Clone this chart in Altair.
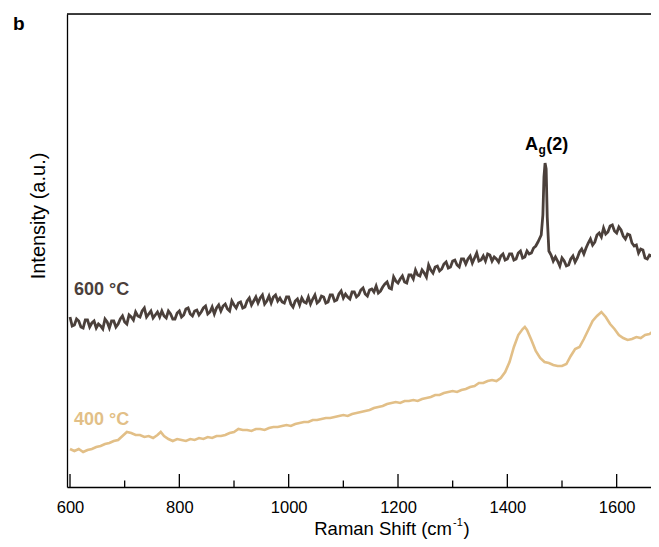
import altair as alt
import pandas as pd

# ---- 600 °C spectrum (Raman shift in cm-1, intensity in a.u.) ----
x600 = [600, 604, 608, 612, 616, 620, 624, 628, 632, 636, 640, 644, 648, 652, 656, 660, 664, 668, 672, 676,
        680, 684, 688, 692, 696, 700, 704, 708, 712, 716, 720, 724, 728, 732, 736, 740, 744, 748, 752, 756,
        760, 764, 768, 772, 776, 780, 784, 788, 792, 796, 800, 804, 808, 812, 816, 820, 824, 828, 832, 836,
        840, 844, 848, 852, 856, 860, 864, 868, 872, 876, 880, 884, 888, 892, 896, 900, 904, 908, 912, 916,
        920, 924, 928, 932, 936, 940, 944, 948, 952, 956, 960, 964, 968, 972, 976, 980, 984, 988, 992, 996,
        1000, 1004, 1008, 1012, 1016, 1020, 1024, 1028, 1032, 1036, 1040, 1044, 1048, 1052, 1056, 1060, 1064, 1068, 1072, 1076,
        1080, 1084, 1088, 1092, 1096, 1100, 1104, 1108, 1112, 1116, 1120, 1124, 1128, 1132, 1136, 1140, 1144, 1148, 1152, 1156,
        1160, 1164, 1168, 1172, 1176, 1180, 1184, 1188, 1192, 1196, 1200, 1204, 1208, 1212, 1216, 1220, 1224, 1228, 1232, 1236,
        1240, 1244, 1248, 1252, 1256, 1260, 1264, 1268, 1272, 1276, 1280, 1284, 1288, 1292, 1296, 1300, 1304, 1308, 1312, 1316,
        1320, 1324, 1328, 1332, 1336, 1340, 1344, 1348, 1352, 1356, 1360, 1364, 1368, 1372, 1376, 1380, 1384, 1388, 1392, 1396,
        1400, 1404, 1408, 1412, 1416, 1420, 1424, 1428, 1432, 1436, 1440, 1444, 1448, 1452,
        1456, 1462, 1465, 1467, 1469, 1471, 1473, 1476, 1480, 1484,
        1488, 1492, 1496, 1500, 1504, 1508, 1512, 1516, 1520, 1524, 1528, 1532, 1536, 1540, 1544, 1548, 1552, 1556, 1560, 1564,
        1568, 1572, 1576, 1580, 1584, 1588, 1592, 1596, 1600, 1604, 1608, 1612, 1616, 1620, 1624, 1628, 1632, 1636, 1640, 1644,
        1648, 1652, 1656, 1660, 1664, 1668, 1672, 1676, 1680]
y600 = [170, 161, 162, 168, 166, 160, 159, 167, 167, 160, 164, 166, 159, 163, 161, 158, 168, 165, 159, 166,
        166, 160, 163, 168, 171, 165, 163, 172, 170, 167, 175, 171, 170, 176, 179, 170, 173, 176, 169, 172,
        175, 170, 176, 171, 169, 176, 173, 168, 168, 174, 176, 170, 172, 178, 179, 173, 171, 176, 177, 172,
        175, 179, 181, 173, 175, 180, 173, 179, 182, 176, 181, 183, 178, 176, 186, 182, 179, 184, 185, 179,
        180, 186, 189, 182, 186, 190, 184, 189, 192, 183, 186, 191, 184, 190, 192, 186, 189, 185, 184, 190,
        190, 183, 180, 186, 188, 182, 189, 185, 184, 190, 183, 188, 192, 184, 186, 191, 190, 184, 185, 192,
        192, 186, 187, 193, 196, 189, 193, 190, 188, 195, 195, 190, 192, 197, 199, 193, 191, 197, 198, 195,
        201, 194, 196, 200, 203, 205, 199, 198, 210, 206, 204, 208, 211, 205, 204, 212, 212, 208, 217, 212,
        211, 217, 214, 210, 222, 217, 214, 220, 221, 216, 218, 223, 225, 219, 220, 226, 227, 222, 220, 228,
        228, 223, 228, 231, 224, 229, 234, 226, 227, 231, 226, 233, 232, 226, 230, 228, 225, 231, 233, 227,
        228, 233, 233, 227, 228, 234, 236, 229, 230, 236, 233, 234, 239, 241,
        245, 252, 272, 310, 324, 318, 270, 236, 232, 226,
        230, 226, 221, 229, 226, 221, 222, 228, 231, 225, 229, 235, 238, 233, 239, 244, 248, 242, 245, 252,
        254, 250, 259, 253, 255, 261, 262, 256, 254, 260, 257, 251, 248, 253, 252, 244, 241, 242, 234, 238,
        237, 229, 228, 232, 231, 224, 221, 226, 225]

# ---- 400 °C spectrum ----
x400 = [600, 608, 616, 624, 632, 640, 648, 656, 664, 672, 680, 688, 696, 704, 712, 720,
        728, 736, 744, 752, 760, 766, 772, 780, 788, 796, 804, 812, 820, 828, 836, 844,
        852, 860, 868, 876, 884, 892, 900, 908, 916, 924, 932, 940, 948, 956, 964, 972,
        980, 988, 996, 1004, 1012, 1020, 1028, 1036, 1044, 1052, 1060, 1068, 1076, 1084,
        1092, 1100, 1108, 1116, 1124, 1132, 1140, 1148, 1156, 1164, 1172, 1180, 1188, 1196,
        1204, 1212, 1220, 1228, 1236, 1244, 1252, 1260, 1268, 1276, 1284, 1292, 1300, 1308,
        1316, 1324, 1332, 1340, 1348, 1356, 1364, 1372, 1380, 1388, 1396, 1404, 1412, 1420,
        1428, 1432, 1436, 1444, 1452, 1460, 1468, 1476, 1484, 1492, 1500, 1508, 1516, 1524,
        1532, 1540, 1548, 1556, 1564, 1572, 1580, 1588, 1596, 1604, 1612, 1620, 1628, 1636,
        1644, 1652, 1660, 1668, 1676]
y400 = [38, 36, 38, 35, 37, 38, 40, 41, 43, 44, 46, 47, 51, 55, 54, 52,
        52, 50, 51, 49, 52, 55, 51, 48, 46, 48, 47, 46, 48, 47, 49, 48,
        50, 49, 51, 51, 52, 54, 55, 58, 57, 57, 56, 58, 58, 57, 59, 60,
        60, 61, 62, 61, 63, 64, 65, 65, 67, 67, 68, 69, 69, 70,
        71, 72, 71, 73, 74, 75, 76, 77, 79, 80, 81, 83, 84, 85,
        84, 86, 86, 87, 86, 88, 89, 90, 92, 92, 94, 95, 96, 95,
        97, 98, 100, 101, 104, 104, 106, 107, 106, 109, 115, 125, 140, 152,
        158, 160, 157, 147, 136, 129, 125, 124, 122, 121, 121, 123, 131, 138,
        140, 148, 157, 166, 171, 175, 170, 163, 158, 152, 149, 147, 148, 150,
        149, 152, 153, 156, 157]

series_names = ["600 °C", "400 °C"]
series_colors = ["#4b403b", "#e2bf87"]

major_ticks = [600, 800, 1000, 1200, 1400, 1600]
minor_ticks = [700, 900, 1100, 1300, 1500]

assert len(x600) == len(y600) and len(x400) == len(y400)

df600 = pd.DataFrame({"shift": x600, "intensity": y600})
df400 = pd.DataFrame({"shift": x400, "intensity": y400})

W, H = 584, 473
FONT = "Liberation Sans"

xscale = alt.Scale(domain=[594.5, 1662.8], nice=False, zero=False)
yscale = alt.Scale(domain=[0, 473], nice=False, zero=False)

xaxis = alt.Axis(title=None, values=major_ticks, ticks=False, grid=False,
                 labelFont=FONT, labelFontSize=16.5, labelColor="black",
                 labelPadding=12, domainColor="black", domainWidth=1.3, format="d")
yaxis = alt.Axis(title=None, labels=False, ticks=False, grid=False,
                 domainColor="black", domainWidth=1.3)

line600 = alt.Chart(df600).mark_line(
    strokeWidth=2.8, clip=True, color=series_colors[0], strokeJoin="miter").encode(
    x=alt.X("shift:Q", scale=xscale, axis=xaxis),
    y=alt.Y("intensity:Q", scale=yscale, axis=yaxis),
)
line400 = alt.Chart(df400).mark_line(
    strokeWidth=2.6, clip=True, color=series_colors[1]).encode(
    x=alt.X("shift:Q", scale=xscale, axis=xaxis),
    y=alt.Y("intensity:Q", scale=yscale, axis=yaxis),
)

major = alt.Chart(pd.DataFrame({"t": major_ticks})).mark_rule(
    color="black", strokeWidth=1.3).encode(
    x=alt.X("t:Q", scale=xscale), y=alt.value(H), y2=alt.value(H - 13))
minor = alt.Chart(pd.DataFrame({"t": minor_ticks})).mark_rule(
    color="black", strokeWidth=1.3).encode(
    x=alt.X("t:Q", scale=xscale), y=alt.value(H), y2=alt.value(H - 6.5))

top_line = alt.Chart(pd.DataFrame({"a": [0]})).mark_rule(
    color="black", strokeWidth=1.3).encode(
    x=alt.value(0), x2=alt.value(W), y=alt.value(0))

# series labels (data coordinates)
labels = [
    alt.Chart(pd.DataFrame({"shift": [607.3], "intensity": [192]})).mark_text(
        align="left", baseline="alphabetic", font=FONT, fontSize=18, fontWeight="bold",
        color=series_colors[0], text=series_names[0]).encode(
        x=alt.X("shift:Q", scale=xscale), y=alt.Y("intensity:Q", scale=yscale)),
    alt.Chart(pd.DataFrame({"shift": [607.3], "intensity": [62]})).mark_text(
        align="left", baseline="alphabetic", font=FONT, fontSize=18, fontWeight="bold",
        color=series_colors[1], text=series_names[1]).encode(
        x=alt.X("shift:Q", scale=xscale), y=alt.Y("intensity:Q", scale=yscale)),
]

# A_g(2) annotation
ag_A = alt.Chart(pd.DataFrame({"shift": [1432.3], "intensity": [337]})).mark_text(
    align="left", baseline="alphabetic", font=FONT, fontSize=18, fontWeight="bold",
    color="black", text="A").encode(
    x=alt.X("shift:Q", scale=xscale), y=alt.Y("intensity:Q", scale=yscale))
ag_g = alt.Chart(pd.DataFrame({"shift": [1457.0], "intensity": [333]})).mark_text(
    align="left", baseline="alphabetic", font=FONT, fontSize=12, fontWeight="bold",
    color="black", text="g").encode(
    x=alt.X("shift:Q", scale=xscale), y=alt.Y("intensity:Q", scale=yscale))
ag_2 = alt.Chart(pd.DataFrame({"shift": [1471.0], "intensity": [337]})).mark_text(
    align="left", baseline="alphabetic", font=FONT, fontSize=18, fontWeight="bold",
    color="black", text="(2)").encode(
    x=alt.X("shift:Q", scale=xscale), y=alt.Y("intensity:Q", scale=yscale))

# panel letter
panel = alt.Chart(pd.DataFrame({"a": [0]})).mark_text(
    align="left", baseline="alphabetic", font=FONT, fontSize=19, fontWeight="bold",
    color="black", text="b").encode(x=alt.value(-54), y=alt.value(16))

# y title
ytitle = alt.Chart(pd.DataFrame({"a": [0]})).mark_text(
    align="center", baseline="alphabetic", angle=270, font=FONT, fontSize=20,
    color="black", text="Intensity (a.u.)").encode(x=alt.value(-22), y=alt.value(202))

# x title pieces: Raman Shift (cm^-1)
xt1 = alt.Chart(pd.DataFrame({"a": [0]})).mark_text(
    align="right", baseline="alphabetic", font=FONT, fontSize=18.5,
    color="black", text="Raman Shift (cm").encode(x=alt.value(385), y=alt.value(521))
xt2 = alt.Chart(pd.DataFrame({"a": [0]})).mark_text(
    align="left", baseline="alphabetic", font=FONT, fontSize=11,
    color="black", text="-1").encode(x=alt.value(386), y=alt.value(512))
xt3 = alt.Chart(pd.DataFrame({"a": [0]})).mark_text(
    align="left", baseline="alphabetic", font=FONT, fontSize=18.5,
    color="black", text=")").encode(x=alt.value(396.5), y=alt.value(521))

chart = alt.layer(
    line600, line400, major, minor, top_line, *labels, ag_A, ag_g, ag_2,
    panel, ytitle, xt1, xt2, xt3
).properties(
    width=W, height=H,
    autosize=alt.AutoSizeParams(type="none"),
    padding={"left": 59, "top": 6, "right": 0, "bottom": 52},
).configure_view(stroke=None).configure(background="white")

chart.save("out.html", embed_options={"renderer": "svg", "actions": False})
